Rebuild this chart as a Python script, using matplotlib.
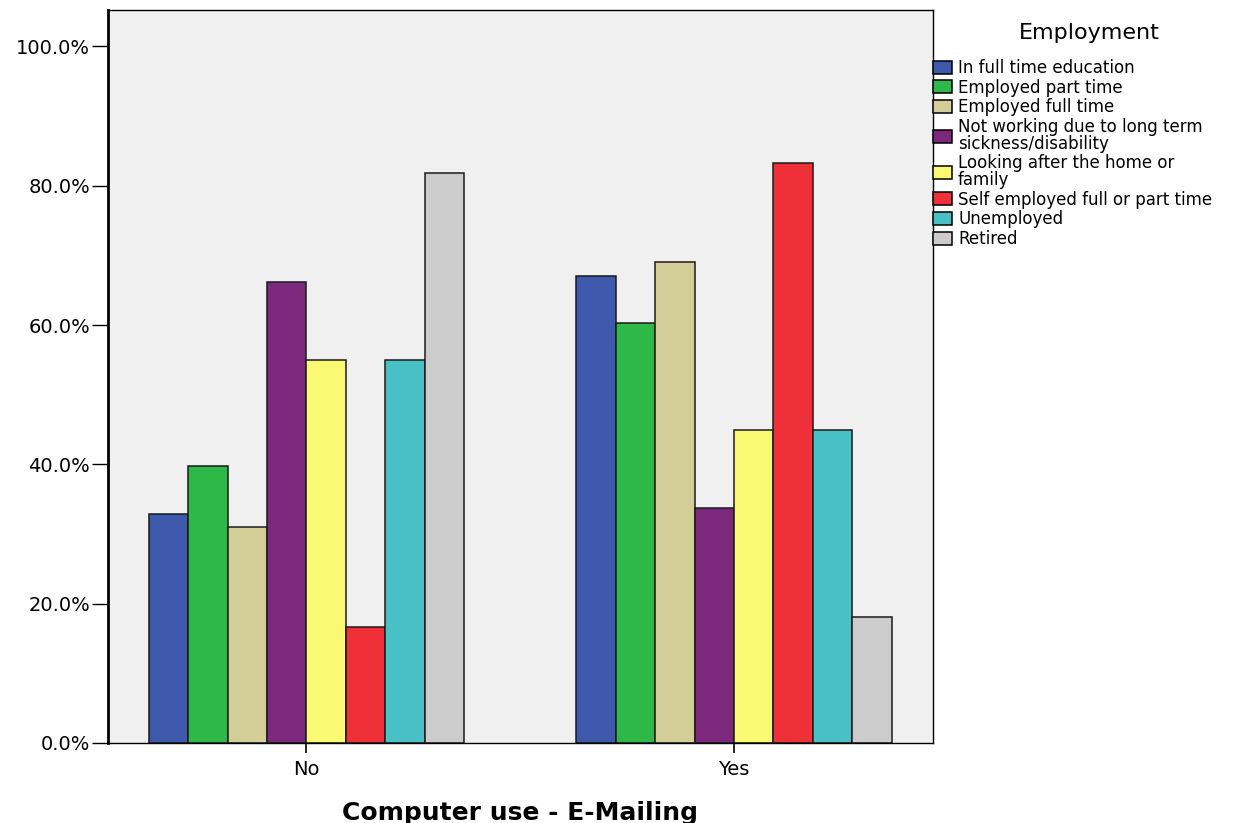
import matplotlib.pyplot as plt
import numpy as np
from matplotlib.ticker import PercentFormatter

groups = ["No", "Yes"]
employment = ["In full time education", "Employed part time", "Employed full time",
              "Not working due to long term\nsickness/disability",
              "Looking after the home or\nfamily",
              "Self employed full or part time", "Unemployed", "Retired"]
pct_no = [32.9, 39.7, 31.0, 66.2, 55.0, 16.7, 55.0, 81.9]
pct_yes = [67.1, 60.3, 69.0, 33.8, 45.0, 83.3, 45.0, 18.1]
colors = ["#3E58AC", "#2EB848", "#D3CE97", "#7B287D", "#FBF873", "#EF3038", "#48C0C5", "#CCCCCC"]

fig = plt.figure(figsize=(12.49, 8.23), dpi=100)
ax = fig.add_axes([108/1249, 1-743/823, (933-108)/1249, (743-9.5)/823])
ax.set_facecolor("#F0F0F0")

x = np.arange(len(groups))
w = 0.0922
n = len(employment)
for i in range(n):
    off = (i - (n-1)/2) * w
    ax.bar(x + off, [pct_no[i], pct_yes[i]], width=w, color=colors[i],
           edgecolor="#1a1a1a", linewidth=1.1, label=employment[i])

ax.set_xlim(-0.464, 1.4655)
ax.set_ylim(0, 105.3)
ax.set_yticks([0, 20, 40, 60, 80, 100])
ax.yaxis.set_major_formatter(PercentFormatter(decimals=1))
ax.set_xticks(x)
ax.set_xticklabels(groups)
ax.tick_params(axis="y", length=11.5, width=1, labelsize=14, pad=1.5)
ax.tick_params(axis="x", length=7, width=1.2, labelsize=14, pad=5)
for s in ax.spines.values():
    s.set_color("black")
    s.set_linewidth(1)
ax.spines["left"].set_linewidth(2)

ax.set_xlabel("Computer use - E-Mailing", fontsize=18, fontweight="bold", labelpad=16)

leg = ax.legend(loc="upper left", bbox_to_anchor=(1.0, 0.9325), frameon=False,
                fontsize=12, handlelength=1.14, handleheight=0.84, handletextpad=0.36,
                labelspacing=0.1, borderpad=0, borderaxespad=0)
for t in leg.get_texts():
    t.set_linespacing(0.9)
for h in leg.legend_handles:
    h.set_edgecolor("black")
fig.text(1089/1249, 1-33.3/823, "Employment", fontsize=16, ha="center", va="center")

fig.savefig("out.png", dpi=100)
